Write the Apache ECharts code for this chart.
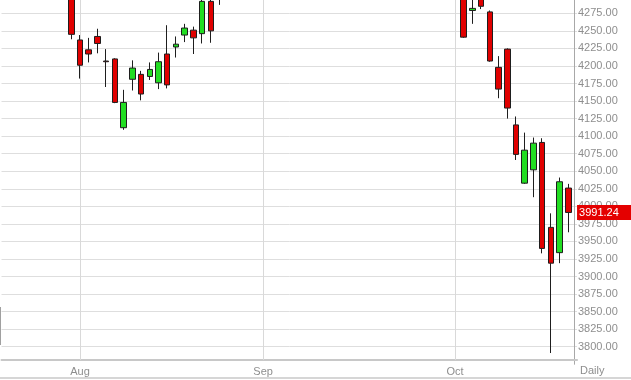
<!DOCTYPE html>
<html>
<head>
<meta charset="utf-8">
<script src="https://cdn.jsdelivr.net/npm/echarts@6/dist/echarts.min.js"></script>
<style>
  html, body { margin: 0; padding: 0; background: #fff; }
  #wrap { position: relative; width: 631px; height: 380px; overflow: hidden; }
  #chart { position: absolute; left: 0; top: 0; width: 631px; height: 380px; }
  #bottomRule { position: absolute; left: 0; top: 377px; width: 631px; height: 2px; background: #d6d6d6; }
  #leftMark { position: absolute; left: 0; top: 307px; width: 1px; height: 38px; background: #a0a0a0; }
</style>
</head>
<body>
<div id="wrap">
  <div id="chart"></div>
  <div id="bottomRule"></div>
  <div id="leftMark"></div>
</div>
<script>
// ---- categories (trading days) ----
const julDays = ['2014-07-21','2014-07-22','2014-07-23','2014-07-24','2014-07-25','2014-07-28','2014-07-29','2014-07-30','2014-07-31'];
const augDays = ['2014-08-01','2014-08-04','2014-08-05','2014-08-06','2014-08-07','2014-08-08','2014-08-11','2014-08-12','2014-08-13','2014-08-14','2014-08-15','2014-08-18','2014-08-19','2014-08-20','2014-08-21','2014-08-22','2014-08-25','2014-08-26','2014-08-27','2014-08-28','2014-08-29'];
const sepDays = ['2014-09-01','2014-09-02','2014-09-03','2014-09-04','2014-09-05','2014-09-08','2014-09-09','2014-09-10','2014-09-11','2014-09-12','2014-09-15','2014-09-16','2014-09-17','2014-09-18','2014-09-19','2014-09-22','2014-09-23','2014-09-24','2014-09-25','2014-09-26','2014-09-29','2014-09-30'];
const octDays = ['2014-10-01','2014-10-02','2014-10-03','2014-10-06','2014-10-07','2014-10-08','2014-10-09','2014-10-10','2014-10-13','2014-10-14','2014-10-15','2014-10-16','2014-10-17','2014-10-20','2014-10-21'];
const monthNames = {'07':'Jul','08':'Aug','09':'Sep','10':'Oct'};

// ---- OHLC values (null = outside the visible price window / not yet traded) ----
const julOpen  = [null,null,null,null,null,null,null,null,4302];
const julClose = [null,null,null,null,null,null,null,null,4245];
const julLow   = [null,null,null,null,null,null,null,null,4238];
const julHigh  = [null,null,null,null,null,null,null,null,4310];

const augOpen  = [4237,4223,4242,4207,4210,4112,4181,4188,4185,4176,4217,4227,4244,4251,4246,4292,4305,null,null,null,null];
const augClose = [4201,4217,4232,4206,4148,4148,4197,4160,4195,4206,4173,4231,4254,4240,4292,4250,4312,null,null,null,null];
const augLow   = [4182,4205,4218,4170,4147,4109,4165,4151,4180,4167,4168,4212,4234,4217,4232,4233,4287,null,null,null,null];
const augHigh  = [4244,4240,4253,4224,4211,4166,4208,4193,4205,4219,4258,4242,4260,4256,4298,4300,4318,null,null,null,null];

const sepOpen  = [null,null,null,null,null,null,null,null,null,null,null,null,null,null,null,null,null,null,null,null,null,null];
const sepClose = sepOpen, sepLow = sepOpen, sepHigh = sepOpen;

const octOpen  = [null,4305,4279,4298,4277,4198,4224,4116,4033,4052,4091,3970,3934,4026,null];
const octClose = [null,4241,4282,4285,4207,4167,4140,4074,4080,4090,3940,3919,4035,3991.24,null];
const octLow   = [null,4240,4260,4281,4206,4154,4125,4066,4032,4013,3933,3791,3919,3963,null];
const octHigh  = [null,4312,4296,4302,4279,4214,4225,4128,4105,4098,4097,3990,4041,4032,null];

const lastPrice = 3991.24;
const yMin = 3775, yMax = 4293.95, yStep = 25;
const plotBottomValue = 3781.05;   // value at the x-axis line

const days = julDays.concat(augDays, sepDays, octDays);
const opens = julOpen.concat(augOpen, sepOpen, octOpen);
const closes = julClose.concat(augClose, sepClose, octClose);
const lows = julLow.concat(augLow, sepLow, octLow);
const highs = julHigh.concat(augHigh, sepHigh, octHigh);

const candles = days.map((d, i) => opens[i] == null ? ['-','-','-','-'] : [opens[i], closes[i], lows[i], highs[i]]);

function isMonthStart(i) {
  return i > 0 && days[i].slice(5, 7) !== days[i - 1].slice(5, 7);
}
const monthLines = days.filter((d, i) => isMonthStart(i)).map(d => [{ coord: [d, plotBottomValue] }, { coord: [d, yMax] }]);

const chart = echarts.init(document.getElementById('chart'), null, { renderer: 'canvas' });
const labelColor = '#8e8e8e';
chart.setOption({
  animation: false,
  backgroundColor: '#ffffff',
  grid: { left: 1.52, top: 0, width: 575.52, height: 364.25, containLabel: false },
  xAxis: {
    type: 'category',
    data: days,
    boundaryGap: false,
    offset: -4.25,
    axisLine: { show: true, lineStyle: { color: '#c8c8c8', width: 2 } },
    axisTick: { show: false },
    axisLabel: {
      interval: (i) => isMonthStart(i),
      formatter: (v) => monthNames[v.slice(5, 7)],
      color: labelColor, fontSize: 11, fontFamily: 'Liberation Sans', margin: 6
    },
    splitLine: { show: false },
    name: 'Daily',
    nameLocation: 'end',
    nameGap: 3,
    nameTextStyle: { color: labelColor, fontSize: 11, fontFamily: 'Liberation Sans', align: 'left', verticalAlign: 'top', padding: [5, 0, 0, 0] }
  },
  yAxis: {
    type: 'value',
    position: 'right',
    offset: -3.04,
    min: yMin,
    max: yMax,
    interval: yStep,
    axisLine: { show: true, lineStyle: { color: '#a8a8a8', width: 1 } },
    axisTick: { show: false },
    axisLabel: {
      showMinLabel: false, showMaxLabel: false,
      formatter: (v) => v.toFixed(2),
      color: labelColor, fontSize: 11, fontFamily: 'Liberation Sans', margin: 4
    },
    splitLine: { show: true, showMinLine: false, showMaxLine: false, lineStyle: { color: '#dedede', width: 1 } }
  },
  series: [{
    type: 'line',
    data: [],
    z: 1,
    silent: true,
    markLine: {
      silent: true, symbol: 'none', animation: false, z: 1,
      label: { show: false },
      lineStyle: { color: '#d9d9d9', width: 1, type: 'solid' },
      data: monthLines
    }
  }, {
    type: 'line',
    data: [],
    z: 6,
    silent: true,
    markLine: {
      silent: true, symbol: 'none', animation: false, z: 6,
      lineStyle: { color: 'rgba(0,0,0,0)', width: 0, opacity: 1 },
      data: [{
        yAxis: lastPrice,
        label: {
          show: true, position: 'end', distance: 0, opacity: 1,
          formatter: () => lastPrice.toFixed(2),
          backgroundColor: '#e40000', color: '#ffffff',
          fontSize: 11, fontFamily: 'Liberation Sans',
          padding: [2, 14, 1, 2], lineHeight: 12
        }
      }]
    }
  }, {
    type: 'candlestick',
    data: candles,
    clip: false,
    z: 2,
    barWidth: 6,
    itemStyle: {
      color: '#22dd22', color0: '#e00000',
      borderColor: '#1e1e1e', borderColor0: '#1e1e1e', borderWidth: 1
    }
  }]
});
</script>
</body>
</html>
